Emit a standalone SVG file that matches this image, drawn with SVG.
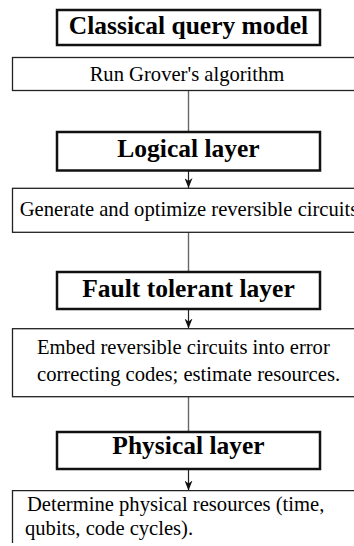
<svg xmlns="http://www.w3.org/2000/svg" width="354" height="546" viewBox="0 0 354 546">
  <style>
    .layer { fill: #fff; stroke: #111; stroke-width: 2.5; }
    .step { fill: #fff; stroke: #222; stroke-width: 1.3; }
    .head { font-weight: bold; font-size: 25.5px; fill: #000; text-anchor: middle; }
    .body { font-size: 20.6px; fill: #000; }
    .mid { text-anchor: middle; }
    .link { stroke: #666; stroke-width: 1.4; fill: none; }
    .arrow { stroke: #222; stroke-width: 1.2; fill: none; }
  </style>
  <defs>
    <marker id="tip" viewBox="0 0 10 8" refX="10" refY="4" markerWidth="10" markerHeight="8" markerUnits="userSpaceOnUse" orient="auto">
      <path d="M0,0 L10,4 L0,8 L3,4 Z" fill="#111"/>
    </marker>
  </defs>

  <rect width="354" height="546" fill="#fff"/>

  <!-- connectors -->
  <g id="connectors">
    <line class="link" x1="188.5" y1="91" x2="188.5" y2="132"/>
    <line class="arrow" x1="188.5" y1="171" x2="188.5" y2="188" marker-end="url(#tip)"/>
    <line class="link" x1="188.5" y1="232" x2="188.5" y2="272"/>
    <line class="arrow" x1="188.5" y1="309" x2="188.5" y2="328.5" marker-end="url(#tip)"/>
    <line class="link" x1="188.5" y1="397" x2="188.5" y2="432"/>
    <line class="arrow" x1="188.5" y1="469" x2="188.5" y2="490.5" marker-end="url(#tip)"/>
  </g>

  <g font-family="'Liberation Serif', 'DejaVu Serif', serif">
    <!-- classical query model -->
    <g id="classical">
      <rect class="layer" x="57" y="10" width="263" height="35"/>
      <text class="head" x="188.5" y="33.5">Classical query model</text>
    </g>
    <g id="grover">
      <rect class="step" x="12.5" y="57.5" width="360" height="33"/>
      <text class="body mid" x="187" y="81">Run Grover's algorithm</text>
    </g>

    <!-- logical layer -->
    <g id="logical">
      <rect class="layer" x="57" y="132" width="263" height="38.5"/>
      <text class="head" x="188.5" y="157">Logical layer</text>
    </g>
    <g id="circuits">
      <rect class="step" x="12.5" y="188.3" width="360" height="44"/>
      <text class="body mid" x="189" y="215.5">Generate and optimize reversible circuits</text>
    </g>

    <!-- fault tolerant layer -->
    <g id="fault-tolerant">
      <rect class="layer" x="57" y="272" width="263" height="37"/>
      <text class="head" x="188.5" y="297">Fault tolerant layer</text>
    </g>
    <g id="embed">
      <rect class="step" x="12.5" y="328.7" width="360" height="68"/>
      <text class="body" x="37" y="354">Embed reversible circuits into error</text>
      <text class="body" x="37" y="380.5">correcting codes; estimate resources.</text>
    </g>

    <!-- physical layer -->
    <g id="physical">
      <rect class="layer" x="57" y="432" width="263" height="37"/>
      <text class="head" x="188.5" y="453.5">Physical layer</text>
    </g>
    <g id="resources">
      <path class="step" d="M372,490.7 H12.5 V543"/>
      <text class="body" x="27" y="510.5">Determine physical resources (time,</text>
      <text class="body" x="25" y="534.5">qubits, code cycles).</text>
    </g>
  </g>
</svg>
